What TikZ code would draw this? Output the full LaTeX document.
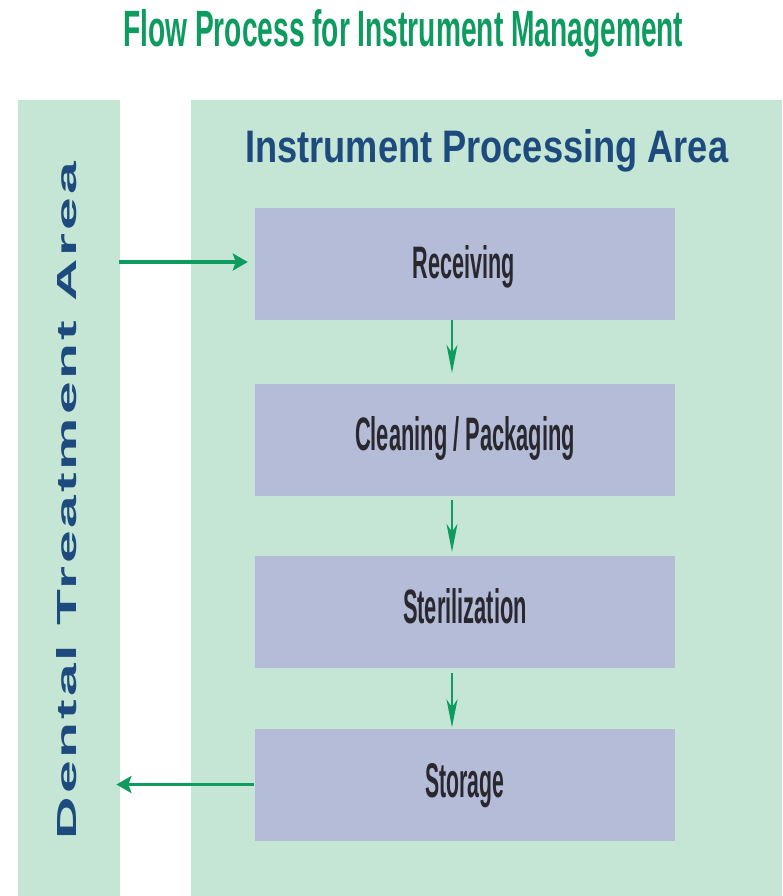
\documentclass[tikz,border=0pt]{standalone}
\usepackage{fontspec}
\usepackage{graphicx}
\setmainfont{Liberation Sans}
\newfontfamily\spacedbold[LetterSpace=5]{Liberation Sans}
\usetikzlibrary{arrows.meta}
\definecolor{panelgreen}{RGB}{197,230,213}
\definecolor{boxblue}{RGB}{181,188,216}
\definecolor{arrowgreen}{RGB}{14,155,95}
\definecolor{headblue}{RGB}{30,75,125}
\definecolor{boxtext}{RGB}{40,40,46}
\tikzset{
  panel/.style={fill=panelgreen, draw=none, inner sep=0pt, anchor=north west},
  stepbox/.style={fill=boxblue, draw=none, minimum width=420pt, minimum height=112pt, inner sep=0pt},
  steptext/.style={inner sep=0pt, anchor=base, text=boxtext, font=\bfseries},
  harrow/.style={draw=arrowgreen, line width=3.2pt, -{Stealth[length=15pt,width=17pt,inset=3pt]}},
  varrow/.style={draw=arrowgreen, line width=1.6pt, -{Stealth[length=28pt,width=11pt,inset=8pt]}},
}
\begin{document}
\begin{tikzpicture}[x=1pt,y=-1pt]
\useasboundingbox (0,0) rectangle (782,896);
\fill[white] (0,0) rectangle (782,896);
% title
\node[inner sep=0pt, anchor=base west, text=arrowgreen, font=\bfseries] (title) at (123,47)
  {\resizebox{560pt}{37pt}{Flow Process for Instrument Management}};
% panels
\node[panel, minimum width=102pt, minimum height=796pt] (dentalpanel) at (18,100) {};
\node[panel, minimum width=591pt, minimum height=796pt] (procpanel) at (191,100) {};
% panel labels
\node[inner sep=0pt, anchor=base west, text=headblue] (prochead) at (245,163)
  {\resizebox{483pt}{33pt}{\bfseries Instrument Processing Area}};
\node[inner sep=0pt, anchor=base, rotate=90, text=headblue] (dentalhead) at (76,500.5)
  {\resizebox{677pt}{20pt}{\spacedbold\bfseries Dental Treatment Area}};
% step boxes
\node[stepbox] (recv)  at (465,264) {};
\node[stepbox] (clean) at (465,440) {};
\node[stepbox] (steri) at (465,612) {};
\node[stepbox] (store) at (465,784.5) {};
\node[steptext] (recvt)  at (464,278) {\resizebox{102pt}{33pt}{Receiving}};
\node[steptext] (cleant) at (465,450) {\resizebox{220pt}{34pt}{Cleaning / Packaging}};
\node[steptext] (sterit) at (465,623) {\resizebox{124pt}{35pt}{Sterilization}};
\node[steptext] (storet) at (464.5,797) {\resizebox{79pt}{34pt}{Storage}};
% connectors
\coordinate (ax) at (452,0);
\coordinate (inrow) at (0,262);
\draw[varrow, shorten >=11pt] (recv.south -| ax) -- (clean.north -| ax);
\draw[varrow, shorten >=4pt, shorten <=4pt] (clean.south -| ax) -- (steri.north -| ax);
\draw[varrow, shorten >=1pt, shorten <=5pt] (steri.south -| ax) -- (store.north -| ax);
\draw[harrow, shorten >=7pt, shorten <=-1pt] (dentalpanel.east |- inrow) -- (recv.west |- inrow);
\draw[harrow, shorten >=-4pt, shorten <=1pt] (store.west) -- (dentalpanel.east |- store.west);
\end{tikzpicture}
\end{document}
